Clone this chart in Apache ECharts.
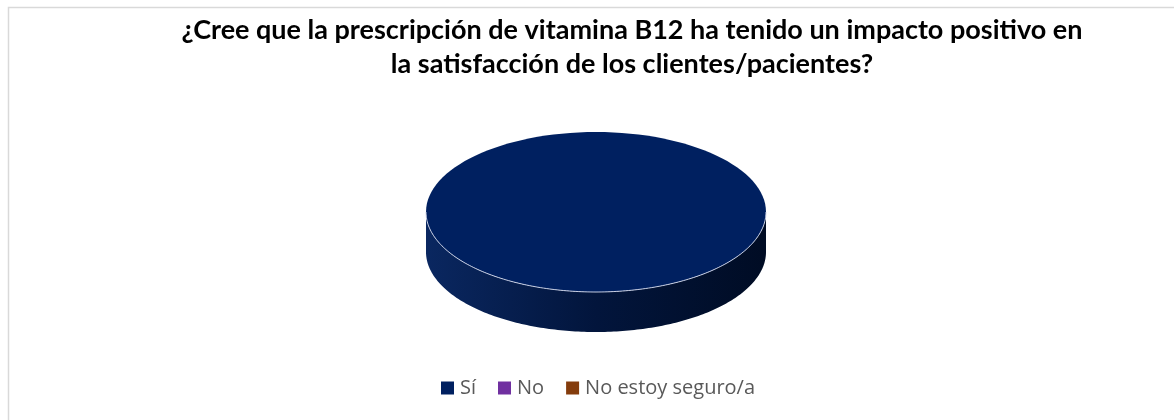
<!DOCTYPE html>
<html>
<head>
<meta charset="utf-8">
<script src="https://cdn.jsdelivr.net/npm/echarts@6/dist/echarts.min.js"></script>
<style>
html,body{margin:0;padding:0;background:#fff;}
#chart{width:1174px;height:420px;}
</style>
</head>
<body>
<div id="chart"></div>
<script>
// ---- data ----
const titleText = '¿Cree que la prescripción de vitamina B12 ha tenido un impacto positivo en\nla satisfacción de los clientes/pacientes?';
const categories = ['Sí', 'No', 'No estoy seguro/a'];
const values = [100, 0, 0];
const colors = ['#002060', '#7030a0', '#843c0c'];

// ---- geometry of the 3D pie ----
const CX = 596, CY = 212, RX = 170, RY = 80, DEPTH = 40;

function hexToRgb(h) {
  h = h.replace('#', '');
  return [parseInt(h.substr(0, 2), 16), parseInt(h.substr(2, 2), 16), parseInt(h.substr(4, 2), 16)];
}
function shade(hex, f, add) {
  const c = hexToRgb(hex).map(v => Math.max(0, Math.min(255, Math.round(v * f + (add || 0)))));
  return 'rgb(' + c.join(',') + ')';
}
function pt(theta, dy) {
  return [CX + RX * Math.sin(theta), CY - RY * Math.cos(theta) + (dy || 0)];
}
function arcPts(a0, a1, dy) {
  const n = Math.max(2, Math.ceil(Math.abs(a1 - a0) / (Math.PI / 180)));
  const out = [];
  for (let k = 0; k <= n; k++) out.push(pt(a0 + (a1 - a0) * k / n, dy));
  return out;
}

function makeRender(i) {
  return function (params, api) {
    const v = api.value(0);
    const total = values.reduce((a, b) => a + b, 0);
    if (!v || !total) return { type: 'group', children: [] };
    let before = 0;
    for (let j = 0; j < i; j++) before += values[j];
    const a0 = before / total * 2 * Math.PI;
    const a1 = (before + v) / total * 2 * Math.PI;
    const col = colors[i];
    const sideFill = {
      type: 'linear', x: 0, y: 0, x2: 1, y2: 0,
      colorStops: [
        { offset: 0, color: shade(col, 0.9, 10) },
        { offset: 0.5, color: shade(col, 0.6, 2) },
        { offset: 1, color: shade(col, 0.38, 0) }
      ]
    };
    const children = [];
    // side wall: intersect slice with the front half (pi/2 .. 3pi/2)
    const s = Math.max(a0, Math.PI / 2), e = Math.min(a1, 3 * Math.PI / 2);
    if (e > s) {
      const top = arcPts(s, e, 0);
      const bot = arcPts(e, s, DEPTH);
      children.push({
        type: 'polygon', shape: { points: top.concat(bot) },
        style: { fill: sideFill, stroke: null }
      });
    }
    // top face
    if (v >= total) {
      children.push({
        type: 'ellipse', shape: { cx: CX, cy: CY, rx: RX, ry: RY },
        style: { fill: col }
      });
    } else {
      children.push({
        type: 'polygon', shape: { points: [[CX, CY]].concat(arcPts(a0, a1, 0)) },
        style: { fill: col }
      });
    }
    // light edge on the front rim
    if (e > s) {
      children.push({
        type: 'polyline', shape: { points: arcPts(s, e, 0) },
        style: { stroke: 'rgba(205,212,232,0.95)', lineWidth: 1, fill: null }
      });
    }
    return { type: 'group', children: children };
  };
}

const chart = echarts.init(document.getElementById('chart'), null, { renderer: 'canvas' });
chart.setOption({
  animation: false,
  backgroundColor: '#ffffff',
  title: {
    text: titleText,
    left: 627,
    top: 8,
    textAlign: 'center',
    textStyle: {
      fontFamily: 'Lato',
      fontWeight: 'bold',
      fontSize: 27,
      lineHeight: 34,
      color: '#000000'
    }
  },
  graphic: [{
    type: 'rect', left: 6, top: 5, z: -10,
    shape: { width: 1300, height: 500 },
    style: { fill: null, stroke: '#d9d9d9', lineWidth: 1.5 }
  }],
  legend: {
    left: 436,
    top: 373,
    icon: 'rect',
    itemWidth: 13,
    itemHeight: 13,
    itemGap: 22,
    data: categories,
    textStyle: { fontFamily: 'Open Sans', fontSize: 20, color: '#595959', padding: [0, 0, 0, 1] }
  },
  series: categories.map(function (name, i) {
    return {
      type: 'custom',
      name: name,
      coordinateSystem: 'none',
      itemStyle: { color: colors[i] },
      renderItem: makeRender(i),
      data: [[values[i]]]
    };
  })
});
</script>
</body>
</html>
